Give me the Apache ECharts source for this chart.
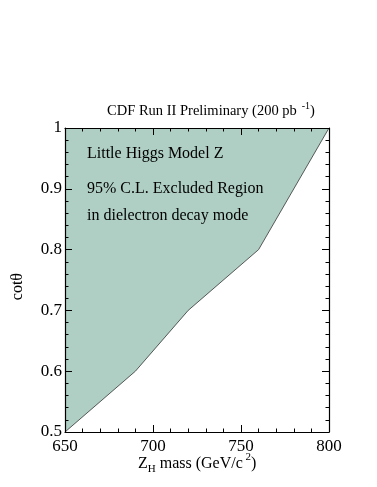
<!DOCTYPE html>
<html>
<head>
<meta charset="utf-8">
<script src="https://cdn.jsdelivr.net/npm/echarts@6/dist/echarts.min.js"></script>
<style>
  html, body { margin: 0; padding: 0; background: #fff; }
  #chart { width: 377px; height: 487px; }
</style>
</head>
<body>
<div id="chart"></div>
<script>
// exclusion contour, Z_H mass vs cot theta
var massValues = [650, 690, 720, 760, 800];
var cotValues = [0.5, 0.6, 0.7, 0.8, 1.0];
var xTicks = [650, 700, 750, 800];
var yTicks = [0.5, 0.6, 0.7, 0.8, 0.9, 1];
var notes = ['Little Higgs Model Z', '95% C.L. Excluded Region', 'in dielectron decay mode'];

var font = 'Liberation Serif';
var fillColor = '#afcfc5';

var points = [];
for (var i = 0; i < massValues.length; i++) {
    points.push([massValues[i], cotValues[i]]);
}

function boxAxis(min, max, interval, pos, showLabel, fmt) {
    return {
        type: 'value',
        position: pos,
        min: min,
        max: max,
        interval: interval,
        z: 10,
        axisLine: {show: true, onZero: false, lineStyle: {color: '#000', width: 1.2}},
        axisTick: {show: true, inside: true, length: 7, lineStyle: {color: '#000'}},
        minorTick: {show: true, splitNumber: 5, length: 3.5, lineStyle: {color: '#000'}},
        splitLine: {show: false},
        axisLabel: {
            show: showLabel,
            color: '#000',
            fontFamily: font,
            fontSize: 17,
            margin: pos === 'bottom' ? 6 : 3,
            formatter: fmt
        }
    };
}

var myChart = echarts.init(document.getElementById('chart'));
myChart.setOption({
    animation: false,
    title: {
        left: 206,
        textAlign: 'center',
        top: 96,
        text: '{a|CDF Run II Preliminary (200 pb}{s|  -1}{a|)}',
        textStyle: {
            fontWeight: 'normal',
            rich: {
                a: {fontFamily: font, fontSize: 14.5, color: '#000', fontWeight: 'normal'},
                s: {fontFamily: font, fontSize: 10, color: '#000', fontWeight: 'normal', verticalAlign: 'top', padding: [0, 0, 10, 0]}
            }
        }
    },
    grid: {left: 65, right: 48, top: 128, bottom: 55},
    xAxis: [
        boxAxis(650, 800, 50, 'bottom', true, function (v) { return String(v); }),
        boxAxis(650, 800, 50, 'top', false)
    ],
    yAxis: [
        boxAxis(0.5, 1, 0.1, 'left', true, function (v) {
            return Math.abs(v - 1) < 1e-9 ? '1' : v.toFixed(1);
        }),
        boxAxis(0.5, 1, 0.1, 'right', false)
    ],
    graphic: [
        {
            type: 'text', left: 87, top: 146, z: 100,
            style: {text: notes[0], font: '16px "Liberation Serif"', fill: '#000'}
        },
        {
            type: 'text', left: 87, top: 181, z: 100,
            style: {text: notes[1], font: '16px "Liberation Serif"', fill: '#000'}
        },
        {
            type: 'text', left: 87, top: 208, z: 100,
            style: {text: notes[2], font: '16px "Liberation Serif"', fill: '#000'}
        },
        {
            type: 'text', left: 10, top: 273, z: 100, rotation: Math.PI / 2,
            style: {text: 'cot\u03b8', font: '16px "Liberation Serif"', fill: '#000'}
        },
        {
            type: 'text', left: 138, top: 452, z: 100,
            style: {
                text: '{a|Z}{b|H}{a| mass (GeV/c}{c| 2}{a|)}',
                rich: {
                    a: {fontFamily: font, fontSize: 16, fill: '#000'},
                    b: {fontFamily: font, fontSize: 11, fill: '#000', verticalAlign: 'bottom', padding: [10, 0, 0, 0]},
                    c: {fontFamily: font, fontSize: 11, fill: '#000', verticalAlign: 'top', padding: [0, 0, 12, 0]}
                }
            }
        }
    ],
    series: [{
        type: 'line',
        data: points,
        symbol: 'none',
        lineStyle: {color: '#333', width: 0.8},
        areaStyle: {color: fillColor, opacity: 1, origin: 'end'},
        z: 1
    }]
});
</script>
</body>
</html>
